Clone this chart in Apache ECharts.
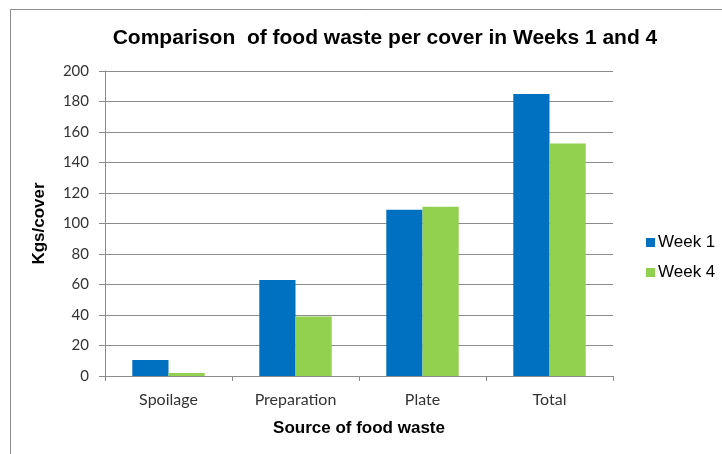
<!DOCTYPE html>
<html>
<head>
<meta charset="utf-8">
<script src="https://cdn.jsdelivr.net/npm/echarts@6/dist/echarts.min.js"></script>
<style>html,body{margin:0;padding:0;background:#fff}#c{width:722px;height:454px}</style>
</head>
<body>
<div id="c"></div>
<script>
const categories = ['Spoilage', 'Preparation', 'Plate', 'Total'];
const week1 = [10.5, 63, 109, 185];
const week4 = [2, 39, 111, 152.5];
const yTicks = [0, 20, 40, 60, 80, 100, 120, 140, 160, 180, 200];

const chart = echarts.init(document.getElementById('c'), null, {renderer: 'canvas'});
chart.setOption({
  animation: false,
  backgroundColor: '#fff',
  graphic: [{
    type: 'rect', shape: {x: 10.5, y: 9.5, width: 800, height: 600},
    style: {fill: 'none', stroke: '#8c8c8c', lineWidth: 1}
  }],
  title: {
    text: 'Comparison  of food waste per cover in Weeks 1 and 4',
    left: 380, top: 23, textAlign: 'center',
    textStyle: {fontFamily: 'Liberation Sans', fontWeight: 'bold', fontSize: 21, color: '#000'}
  },
  legend: {
    orient: 'vertical', left: 641, top: 229, itemWidth: 9, itemHeight: 9, itemGap: 13,
    icon: 'rect',
    textStyle: {fontFamily: 'Liberation Sans', fontSize: 17, color: '#000', padding: [0,0,0,-2]},
    data: ['Week 1', 'Week 4']
  },
  grid: {left: 105, right: 109, top: 71, bottom: 78, containLabel: false},
  xAxis: {
    type: 'category', data: categories,
    name: 'Source of food waste', nameLocation: 'middle', nameGap: 44,
    nameTextStyle: {fontFamily: 'Liberation Sans', fontWeight: 'bold', fontSize: 17, color: '#000'},
    axisLine: {lineStyle: {color: '#8c8c8c'}},
    axisTick: {show: true, length: 5, lineStyle: {color: '#8c8c8c'}},
    axisLabel: {fontFamily: 'Lato', fontSize: 16, color: '#333', margin: 16}
  },
  yAxis: {
    type: 'value', min: 0, max: 200, interval: 20,
    name: 'Kgs/cover', nameLocation: 'middle', nameGap: 57, nameRotate: 90,
    nameTextStyle: {fontFamily: 'Liberation Sans', fontWeight: 'bold', fontSize: 17, color: '#000'},
    axisLine: {show: true, lineStyle: {color: '#8c8c8c'}},
    axisTick: {show: true, length: 6, lineStyle: {color: '#8c8c8c'}},
    axisLabel: {fontFamily: 'Lato', fontSize: 15, color: '#333', margin: 16,
      formatter: v => yTicks.includes(v) ? String(v) : ''},
    splitLine: {show: true, lineStyle: {color: '#8c8c8c', width: 1}}
  },
  series: [
    {name: 'Week 1', type: 'bar', data: week1, barGap: '0%', barCategoryGap: '43%',
     itemStyle: {color: '#0070C0'}},
    {name: 'Week 4', type: 'bar', data: week4, barGap: '0%', barCategoryGap: '43%',
     itemStyle: {color: '#92D050'}}
  ]
});
</script>
</body>
</html>
